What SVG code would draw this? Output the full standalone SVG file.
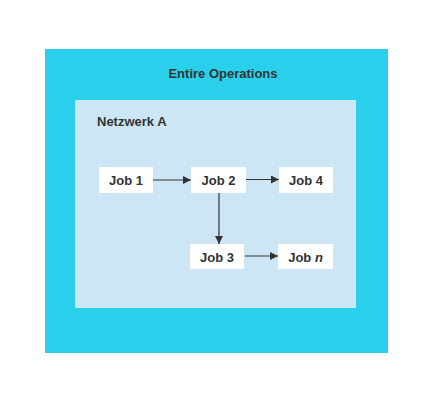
<svg xmlns="http://www.w3.org/2000/svg" width="443" height="405" viewBox="0 0 443 405">
<defs>
<marker id="ah" viewBox="0 0 10 10" refX="10" refY="5" markerWidth="8" markerHeight="8" markerUnits="userSpaceOnUse" orient="auto">
<path d="M0,0 L10,5 L0,10 z" fill="#333333"/>
</marker>
<style>
text{font-family:"Liberation Sans",Arial,sans-serif;font-weight:bold;font-size:13px;fill:#333333}
.job{fill:#ffffff}
.c{stroke:#333333;stroke-width:1.2;fill:none;marker-end:url(#ah)}
</style>
</defs>
<rect width="443" height="405" fill="#ffffff"/>
<g id="entire-operations">
<rect x="45" y="49" width="343" height="304" fill="#29cfeb"/>
<text x="223" y="78" text-anchor="middle">Entire Operations</text>
</g>
<g id="netzwerk-a">
<rect x="75" y="100" width="281" height="208" fill="#cde6f5"/>
<text x="97" y="126">Netzwerk A</text>
</g>
<g id="job1"><rect class="job" x="99" y="167" width="54" height="26"/><text x="126" y="185" text-anchor="middle">Job 1</text></g>
<g id="job2"><rect class="job" x="191" y="167" width="55" height="26"/><text x="218.5" y="185" text-anchor="middle">Job 2</text></g>
<g id="job4"><rect class="job" x="279" y="167" width="54" height="26"/><text x="306" y="185" text-anchor="middle">Job 4</text></g>
<g id="job3"><rect class="job" x="190" y="244" width="54" height="25"/><text x="217" y="261.5" text-anchor="middle">Job 3</text></g>
<g id="jobn"><rect class="job" x="278" y="244" width="55" height="25"/><text x="305.5" y="261.5" text-anchor="middle">Job <tspan font-style="italic">n</tspan></text></g>
<g id="connectors">
<line class="c" x1="153" y1="180" x2="191" y2="180"/>
<line class="c" x1="246" y1="179.5" x2="279" y2="179.5"/>
<line class="c" x1="219" y1="193" x2="219" y2="244"/>
<line class="c" x1="245" y1="256" x2="278" y2="256"/>
</g>
</svg>
